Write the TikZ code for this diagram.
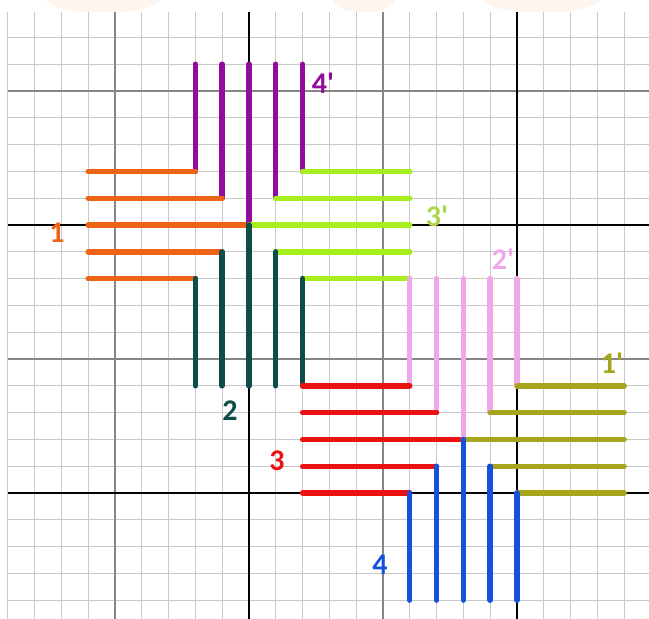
\documentclass[tikz,border=0pt]{standalone}
\usepackage{fontspec}
\setmainfont{Carlito}
\newfontfamily\lblfont{Carlito Bold}
\definecolor{gridlight}{HTML}{C9C9C9}
\definecolor{gridmajor}{HTML}{858585}
\definecolor{corange}{HTML}{EE6417}
\definecolor{cpurple}{HTML}{910E9C}
\definecolor{cgreen}{HTML}{A6EE1E}
\definecolor{cgreenlbl}{HTML}{A9D64A}
\definecolor{cteal}{HTML}{0E4C4A}
\definecolor{cred}{HTML}{EC1212}
\definecolor{cpink}{HTML}{EEA8EA}
\definecolor{colive}{HTML}{A6A51C}
\definecolor{cblue}{HTML}{1452D8}
\definecolor{wm}{HTML}{FEF5EE}
\tikzset{
  gline/.style={gridlight, line width=1.1pt},
  mline/.style={gridmajor, line width=1.1pt},
  aline/.style={black, line width=1.1pt},
  bar/.style={line width=5.4pt, line cap=round},
  lbl/.style={font=\lblfont\fontsize{30}{30}\selectfont, inner sep=0pt},
}
\begin{document}
\begin{tikzpicture}[x=26.8pt,y=26.8pt]
\useasboundingbox (-249pt,-394pt) rectangle (400pt,225pt);
\fill[white] (-249pt,-394pt) rectangle (400pt,225pt);
% faint watermark at top
\begin{scope}
\clip (-249pt,213pt) rectangle (400pt,225pt);
\fill[wm] (-146pt,228pt) ellipse (58pt and 16pt);
\fill[wm] (115pt,228pt) ellipse (32pt and 16pt);
\fill[wm] (292pt,228pt) ellipse (60pt and 16pt);
\end{scope}
% grid
\foreach \i in {-9,...,14} {\draw[gline] (\i,-14.70) -- (\i,7.95);}
\foreach \j in {-14,...,7} {\draw[gline] (-9,\j) -- (14.93,\j);}
\foreach \i in {-5,5} {\draw[mline] (\i,-14.70) -- (\i,7.95);}
\foreach \j in {5,-5} {\draw[mline] (-9,\j) -- (14.93,\j);}
\foreach \i in {0,10} {\draw[aline] (\i,-14.70) -- (\i,7.95);}
\foreach \j in {0,-10} {\draw[aline] (-9,\j) -- (14.93,\j);}
% clusters
\foreach \mx/\my/\kl/\kt/\kr/\kb in {0/0/corange/cpurple/cgreen/cteal, 8/-8/cred/cpink/colive/cblue} {
  \foreach \d in {-2,...,2} {
    \pgfmathsetmacro{\ad}{abs(\d)}
    \draw[bar,color=\kl] (\mx-6,\my+\d) -- (\mx-\ad,\my+\d);
    \draw[bar,color=\kt] (\mx+\d,\my+6) -- (\mx+\d,\my+\ad);
    \draw[bar,color=\kr] (\mx+\ad,\my+\d) -- (\mx+6,\my+\d);
    \draw[bar,color=\kb] (\mx+\d,\my-\ad) -- (\mx+\d,\my-6);
  }
}
% labels
\node[lbl, text=corange] (l1) at (-192pt,-8pt) {1};
\node[lbl, text=cpurple] (l4p) at (74pt,142pt) {4'};
\node[lbl, text=cgreenlbl] (l3p) at (188pt,9pt) {3'};
\node[lbl, text=cpink] (l2p) at (254pt,-34pt) {2'};
\node[lbl, text=cteal] (l2) at (-19pt,-186pt) {2};
\node[lbl, text=cred] (l3) at (28pt,-236pt) {3};
\node[lbl, text=colive] (l1p) at (363pt,-138pt) {1'};
\node[lbl, text=cblue] (l4) at (131pt,-340pt) {4};
\end{tikzpicture}
\end{document}
